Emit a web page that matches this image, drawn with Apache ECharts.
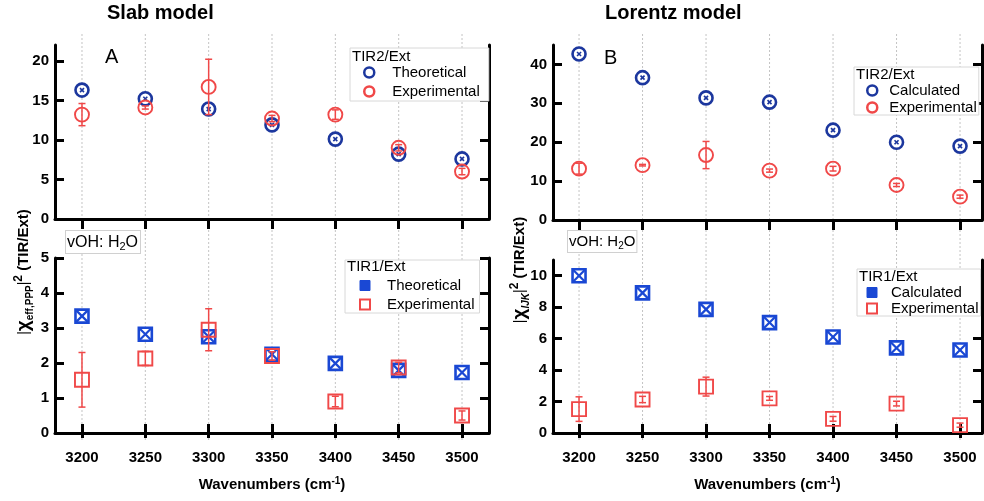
<!DOCTYPE html>
<html>
<head>
<meta charset="utf-8">
<script src="https://cdn.jsdelivr.net/npm/echarts@6/dist/echarts.min.js"></script>
<style>html,body{margin:0;padding:0;background:#fff}#c{width:984px;height:501px}</style>
</head>
<body>
<div id="c"></div>
<script>
// ---- data ----
const wavenumbers = [3200, 3250, 3300, 3350, 3400, 3450, 3500];
const slabTIR2Theoretical = [16.3, 15.2, 13.9, 11.9, 10.1, 8.2, 7.6];
const slabTIR1Theoretical = [3.34, 2.82, 2.75, 2.25, 1.99, 1.79, 1.73];
const lorentzTIR2Calculated = [42.7, 36.6, 31.4, 30.3, 23.1, 20.0, 19.0];
const lorentzTIR1Calculated = [10.0, 8.91, 7.86, 7.02, 6.10, 5.41, 5.28];
const tir2Experimental = [13.2, 14.1, 16.7, 12.7, 13.2, 9.0, 6.0];
const tir2ExperimentalErr = [1.4, 0.2, 3.5, 0.4, 0.6, 0.4, 0.4];
const tir1Experimental = [1.52, 2.13, 2.95, 2.2, 0.9, 1.87, 0.5];
const tir1ExperimentalErr = [0.78, 0.2, 0.6, 0.12, 0.15, 0.15, 0.13];
const ticksSlabTIR2 = [0, 5, 10, 15, 20];
const ticksSlabTIR1 = [0, 1, 2, 3, 4, 5];
const ticksLorentzTIR2 = [0, 10, 20, 30, 40];
const ticksLorentzTIR1 = [0, 2, 4, 6, 8, 10];

const FONT = 'Liberation Sans';
const NAVY = '#1c379e';
const BLUE = '#1a48d4';
const RED = '#f04848';

function topX(g, min, max) {
  return { gridIndex: g, type: 'value', min, max, position: 'top', offset: 11,
    axisLine: { show: true, lineStyle: { color: '#000', width: 3 } },
    axisTick: { show: true, inside: true, length: 10, customValues: wavenumbers, lineStyle: { color: '#000', width: 3 } },
    axisLabel: { show: false }, splitLine: { show: false } };
}
function bottomX(g, min, max) {
  return { gridIndex: g, type: 'value', min, max, position: 'bottom', offset: 9,
    axisLine: { show: true, lineStyle: { color: '#000', width: 3 } },
    axisTick: { show: true, inside: true, length: 9, customValues: wavenumbers, lineStyle: { color: '#000', width: 3 } },
    axisLabel: { show: true, customValues: wavenumbers, formatter: v => String(v), fontFamily: FONT, fontSize: 15, fontWeight: 'bold', color: '#000', margin: 8 },
    splitLine: { show: false },
    name: 'Wavenumbers (cm{sup|-1})', nameLocation: 'middle', nameGap: 34,
    nameTextStyle: { fontFamily: FONT, fontSize: 15, fontWeight: 'bold', color: '#000', lineHeight: 18,
      rich: { sup: { fontFamily: FONT, fontSize: 10, fontWeight: 'bold', verticalAlign: 'top', lineHeight: 10, color: '#000' } } } };
}
function outTickX(g, min, max) {
  return { gridIndex: g, type: 'value', min, max, position: 'bottom', offset: 9,
    axisLine: { show: false },
    axisTick: { show: true, inside: false, length: 5, customValues: wavenumbers, lineStyle: { color: '#000', width: 3 } },
    axisLabel: { show: false }, splitLine: { show: false } };
}
function hiddenX(g, min, max) {
  return { gridIndex: g, type: 'value', min, max, show: false };
}
function leftY(g, max, ticks) {
  return { gridIndex: g, type: 'value', min: 0, max, position: 'left',
    axisLine: { show: true, lineStyle: { color: '#000', width: 3 } },
    axisTick: { show: true, inside: true, length: 9, customValues: ticks, lineStyle: { color: '#000', width: 3 } },
    axisLabel: { show: true, customValues: ticks, fontFamily: FONT, fontSize: 15, fontWeight: 'bold', color: '#000', margin: 6 },
    splitLine: { show: false } };
}
function rightY(g, max, ticks) {
  return { gridIndex: g, type: 'value', min: 0, max, position: 'right',
    axisLine: { show: true, lineStyle: { color: '#000', width: 3 } },
    axisTick: { show: true, inside: true, length: 9, customValues: ticks, lineStyle: { color: '#000', width: 3 } },
    axisLabel: { show: false }, splitLine: { show: false } };
}

function errorBar(api, x, y, e, color) {
  const t = api.coord([x, y + e]);
  const b = api.coord([x, y - e]);
  const s = { stroke: color, lineWidth: 1.5 };
  return [
    { type: 'line', shape: { x1: t[0], y1: t[1], x2: b[0], y2: b[1] }, style: s },
    { type: 'line', shape: { x1: t[0] - 3.5, y1: t[1], x2: t[0] + 3.5, y2: t[1] }, style: s },
    { type: 'line', shape: { x1: b[0] - 3.5, y1: b[1], x2: b[0] + 3.5, y2: b[1] }, style: s }
  ];
}

function markers(name, xi, yi, ys, errs, kind, color, z) {
  return {
    type: 'custom', name, xAxisIndex: xi, yAxisIndex: yi, z, silent: true,
    data: wavenumbers.map((w, i) => [w, ys[i], errs ? errs[i] : 0]),
    renderItem: function (params, api) {
      const x = api.value(0), y = api.value(1), e = api.value(2);
      const p = api.coord([x, y]);
      const ch = [];
      if (kind === 'circleTheo') {
        ch.push({ type: 'circle', shape: { cx: p[0], cy: p[1], r: 6.5 }, style: { fill: '#fff', stroke: color, lineWidth: 2.6 } });
        ch.push({ type: 'line', shape: { x1: p[0] - 2, y1: p[1] - 2, x2: p[0] + 2, y2: p[1] + 2 }, style: { stroke: color, lineWidth: 1.6 } });
        ch.push({ type: 'line', shape: { x1: p[0] - 2, y1: p[1] + 2, x2: p[0] + 2, y2: p[1] - 2 }, style: { stroke: color, lineWidth: 1.6 } });
      } else if (kind === 'circleExp') {
        ch.push({ type: 'circle', shape: { cx: p[0], cy: p[1], r: 7 }, style: { fill: 'rgba(255,255,255,0)', stroke: color, lineWidth: 1.9 } });
        errorBar(api, x, y, e, color).forEach(c => ch.push(c));
      } else if (kind === 'squareTheo') {
        ch.push({ type: 'rect', shape: { x: p[0] - 6.5, y: p[1] - 6.5, width: 13, height: 13 }, style: { fill: '#fff', stroke: color, lineWidth: 2.6 } });
        ch.push({ type: 'line', shape: { x1: p[0] - 6, y1: p[1] - 6, x2: p[0] + 6, y2: p[1] + 6 }, style: { stroke: color, lineWidth: 2.2 } });
        ch.push({ type: 'line', shape: { x1: p[0] - 6, y1: p[1] + 6, x2: p[0] + 6, y2: p[1] - 6 }, style: { stroke: color, lineWidth: 2.2 } });
      } else {
        ch.push({ type: 'rect', shape: { x: p[0] - 7, y: p[1] - 7, width: 14, height: 14 }, style: { fill: 'rgba(255,255,255,0)', stroke: color, lineWidth: 1.9 } });
        errorBar(api, x, y, e, color).forEach(c => ch.push(c));
      }
      return { type: 'group', children: ch };
    }
  };
}

function gridLines(xi, yi) {
  return {
    type: 'custom', xAxisIndex: xi, yAxisIndex: yi, z: 0, silent: true,
    data: wavenumbers.map(w => [w, 0]),
    renderItem: function (params, api) {
      const t = api.coord([api.value(0), 1]);
      const b = api.coord([api.value(0), 0]);
      return { type: 'line', shape: { x1: t[0], y1: t[1], x2: b[0], y2: b[1] }, style: { stroke: '#c4c4c4', lineWidth: 1, lineDash: [2, 2] } };
    }
  };
}

function legendBox(left, top, pad, textPad, gap, items) {
  return {
    orient: 'vertical', left, top, padding: pad, itemGap: gap, itemWidth: 10, itemHeight: 10,
    selectedMode: false, backgroundColor: '#fff', borderColor: '#d8d8d8', borderWidth: 1,
    formatter: n => n.split('#')[0],
    textStyle: { fontFamily: FONT, fontSize: 15, color: '#000', lineHeight: 15, padding: [0, 0, 0, textPad] },
    data: items
  };
}

const LMIN = 3178.7, LMAX = 3521.3;
const RMIN = 3179.5, RMAX = 3517.3;

const option = {
  animation: false,
  backgroundColor: '#fff',
  textStyle: { fontFamily: FONT },
  grid: [
    { left: 55, top: 45, width: 434, height: 174 },
    { left: 55, top: 258, width: 434, height: 175 },
    { left: 553, top: 45, width: 429, height: 175 },
    { left: 553, top: 260, width: 429, height: 173 },
    { left: 55, top: 34, width: 434, height: 408 },
    { left: 553, top: 34, width: 429, height: 408 }
  ],
  xAxis: [
    topX(0, LMIN, LMAX), bottomX(1, LMIN, LMAX), topX(2, RMIN, RMAX), bottomX(3, RMIN, RMAX),
    hiddenX(4, LMIN, LMAX), hiddenX(5, RMIN, RMAX), outTickX(1, LMIN, LMAX), outTickX(3, RMIN, RMAX)
  ],
  yAxis: [
    leftY(0, 22, ticksSlabTIR2), leftY(1, 5, ticksSlabTIR1), leftY(2, 45, ticksLorentzTIR2), leftY(3, 11, ticksLorentzTIR1),
    { gridIndex: 4, type: 'value', min: 0, max: 1, show: false },
    { gridIndex: 5, type: 'value', min: 0, max: 1, show: false },
    rightY(0, 22, ticksSlabTIR2), rightY(1, 5, ticksSlabTIR1), rightY(2, 45, ticksLorentzTIR2), rightY(3, 11, ticksLorentzTIR1)
  ],
  legend: [
    legendBox(350, 48, [17, 9, 2, 13], 13, 4, [
      { name: 'Theoretical#A2', icon: 'circle', itemStyle: { color: '#fff', borderColor: NAVY, borderWidth: 2.5 } },
      { name: 'Experimental#A2', icon: 'circle', itemStyle: { color: '#fff', borderColor: RED, borderWidth: 2.5 } }
    ]),
    legendBox(345, 260, [18, 5, 1, 14], 12, 4, [
      { name: 'Theoretical#A1', icon: 'rect', itemStyle: { color: BLUE, borderColor: BLUE, borderWidth: 1 } },
      { name: 'Experimental#A1', icon: 'rect', itemStyle: { color: '#fff', borderColor: RED, borderWidth: 2 } }
    ]),
    legendBox(854, 67, [16, 2, 0, 12], 7, 2, [
      { name: 'Calculated#B2', icon: 'circle', itemStyle: { color: '#fff', borderColor: NAVY, borderWidth: 2.5 } },
      { name: 'Experimental#B2', icon: 'circle', itemStyle: { color: '#fff', borderColor: RED, borderWidth: 2.5 } }
    ]),
    legendBox(857, 269, [16, 2, 0, 9], 9, 1, [
      { name: 'Calculated#B1', icon: 'rect', itemStyle: { color: BLUE, borderColor: BLUE, borderWidth: 1 } },
      { name: 'Experimental#B1', icon: 'rect', itemStyle: { color: '#fff', borderColor: RED, borderWidth: 2 } }
    ])
  ],
  graphic: [
    { type: 'text', left: 107, top: 3, style: { text: 'Slab model', font: 'bold 20px "Liberation Sans"', fill: '#000' } },
    { type: 'text', left: 605, top: 3, style: { text: 'Lorentz model', font: 'bold 20px "Liberation Sans"', fill: '#000' } },
    { type: 'text', left: 105, top: 47, style: { text: 'A', font: '20px "Liberation Sans"', fill: '#000' } },
    { type: 'text', left: 604, top: 48, style: { text: 'B', font: '20px "Liberation Sans"', fill: '#000' } },
    { type: 'text', left: 352, top: 49, z: 100, style: { text: 'TIR2/Ext', font: '15px "Liberation Sans"', fill: '#000' } },
    { type: 'text', left: 347, top: 259, z: 100, style: { text: 'TIR1/Ext', font: '15px "Liberation Sans"', fill: '#000' } },
    { type: 'text', left: 856, top: 67, z: 100, style: { text: 'TIR2/Ext', font: '15px "Liberation Sans"', fill: '#000' } },
    { type: 'text', left: 859, top: 269, z: 100, style: { text: 'TIR1/Ext', font: '15px "Liberation Sans"', fill: '#000' } },
    { type: 'text', left: 65, top: 230, z: 100, style: { text: 'vOH: H{s|2}O', font: '16px "Liberation Sans"', fill: '#000',
        backgroundColor: '#fff', borderColor: '#d0d0d0', borderWidth: 1, padding: [2, 2, 1, 1],
        rich: { s: { fontSize: 11, verticalAlign: 'bottom', lineHeight: 11 } }, lineHeight: 19 } },
    { type: 'text', left: 567, top: 230, z: 100, style: { text: 'vOH: H{s|2}O', font: '15px "Liberation Sans"', fill: '#000',
        backgroundColor: '#fff', borderColor: '#d0d0d0', borderWidth: 1, padding: [2, 1, 1, 1],
        rich: { s: { fontSize: 10, verticalAlign: 'bottom', lineHeight: 10 } }, lineHeight: 18 } },
    { type: 'text', x: 24, y: 272, rotation: Math.PI / 2, z: 100,
      style: { text: '{n||}{c|χ}{sub|eff,PPP}{n||}{sup|2}{m| (TIR/Ext)}', align: 'center', verticalAlign: 'middle', fill: '#000',
        rich: {
          n: { fontFamily: FONT, fontSize: 14, lineHeight: 22 },
          c: { fontFamily: FONT, fontSize: 19, fontWeight: 'bold', lineHeight: 22 },
          sub: { fontFamily: FONT, fontSize: 10, fontWeight: 'bold', verticalAlign: 'bottom', lineHeight: 12 },
          sup: { fontFamily: FONT, fontSize: 12, fontWeight: 'bold', verticalAlign: 'top', lineHeight: 12 },
          m: { fontFamily: FONT, fontSize: 15, fontWeight: 'bold', lineHeight: 22 }
        } } },
    { type: 'text', x: 520, y: 270, rotation: Math.PI / 2, z: 100,
      style: { text: '{n||}{c|χ}{sub|IJK}{n||}{sup|2}{m| (TIR/Ext)}', align: 'center', verticalAlign: 'middle', fill: '#000',
        rich: {
          n: { fontFamily: FONT, fontSize: 14, lineHeight: 22 },
          c: { fontFamily: FONT, fontSize: 19, fontWeight: 'bold', lineHeight: 22 },
          sub: { fontFamily: FONT, fontSize: 10, fontWeight: 'bold', fontStyle: 'italic', verticalAlign: 'bottom', lineHeight: 12 },
          sup: { fontFamily: FONT, fontSize: 12, fontWeight: 'bold', verticalAlign: 'top', lineHeight: 12 },
          m: { fontFamily: FONT, fontSize: 15, fontWeight: 'bold', lineHeight: 22 }
        } } }
  ],
  series: [
    gridLines(4, 4), gridLines(5, 5),
    markers('Theoretical#A2', 0, 0, slabTIR2Theoretical, null, 'circleTheo', NAVY, 5),
    markers('Experimental#A2', 0, 0, tir2Experimental, tir2ExperimentalErr, 'circleExp', RED, 6),
    markers('Theoretical#A1', 1, 1, slabTIR1Theoretical, null, 'squareTheo', BLUE, 5),
    markers('Experimental#A1', 1, 1, tir1Experimental, tir1ExperimentalErr, 'squareExp', RED, 6),
    markers('Calculated#B2', 2, 2, lorentzTIR2Calculated, null, 'circleTheo', NAVY, 5),
    markers('Experimental#B2', 2, 2, tir2Experimental, tir2ExperimentalErr, 'circleExp', RED, 6),
    markers('Calculated#B1', 3, 3, lorentzTIR1Calculated, null, 'squareTheo', BLUE, 5),
    markers('Experimental#B1', 3, 3, tir1Experimental, tir1ExperimentalErr, 'squareExp', RED, 6)
  ]
};

const chart = echarts.init(document.getElementById('c'), null, { renderer: 'canvas' });
chart.setOption(option);
</script>
</body>
</html>
